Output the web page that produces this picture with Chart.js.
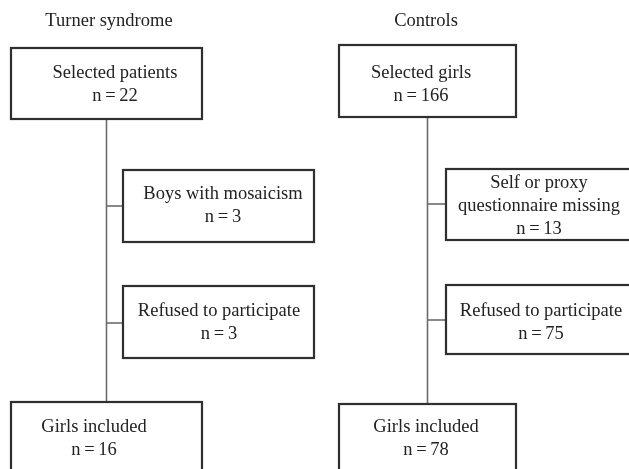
<!DOCTYPE html>
<html>
<head>
<meta charset="utf-8">
<script src="https://cdn.jsdelivr.net/npm/chart.js@4.4.0/dist/chart.umd.min.js"></script>
<style>
  html, body { margin: 0; padding: 0; background: #fff; }
  canvas { display: block; }
</style>
</head>
<body>
<canvas id="chart" width="629" height="469"></canvas>
<script>
// flow of participants, one column per group
const groups = ["Turner syndrome", "Controls"];
const turnerSteps = [["Selected patients"], ["Boys with mosaicism"], ["Refused to participate"], ["Girls included"]];
const turnerCounts = [22, 3, 3, 16];
const controlSteps = [["Selected girls"], ["Self or proxy", "questionnaire missing"], ["Refused to participate"], ["Girls included"]];
const controlCounts = [166, 13, 75, 78];

// layout in page units (x: 0..629, y: 0..469), boxes as [left, top, right, bottom]
const titlePos = [[109, 21], [426, 21]];
const boxRects = [
    [[11, 48, 202, 119], [123, 170, 314, 242], [123, 286, 314, 358], [11, 402, 202, 490]],
    [[339, 45, 516, 117], [446, 169, 650, 240], [446, 285, 650, 354], [339, 404, 516, 490]]
];
const textPos = [
    [[115, 73], [223, 194], [219, 311], [94, 427]],
    [[421, 73], [539, 183], [541, 311], [426, 427]]
];
const branchY = [[206, 323], [204, 320]];

const FONT = '18.5px "Liberation Serif", "Times New Roman", serif';
const LINE_H = 23;

const steps = [turnerSteps, controlSteps];
const counts = [turnerCounts, controlCounts];

// connectors as line datasets
const connectors = [];
boxRects.forEach((rects, g) => {
    const trunkX = (rects[0][0] + rects[0][2]) / 2;
    connectors.push([{x: trunkX, y: rects[0][3]}, {x: trunkX, y: rects[3][1]}]);
    branchY[g].forEach((by, i) => {
        connectors.push([{x: trunkX, y: by}, {x: rects[i + 1][0], y: by}]);
    });
});

const datasets = connectors.map(pts => ({
    type: 'line',
    data: pts,
    borderColor: '#6b6b6b',
    borderWidth: 1.6,
    pointRadius: 0,
    fill: false,
}));

const flowBoxes = {
    id: 'flowBoxes',
    afterDatasetsDraw(chart) {
        const ctx = chart.ctx;
        const xs = chart.scales.x, ys = chart.scales.y;
        ctx.save();
        ctx.font = FONT;
        ctx.fillStyle = '#222';
        ctx.textAlign = 'center';
        ctx.textBaseline = 'middle';
        groups.forEach((name, g) => {
            ctx.fillText(name, xs.getPixelForValue(titlePos[g][0]), ys.getPixelForValue(titlePos[g][1]));
            boxRects[g].forEach((r, i) => {
                const x0 = xs.getPixelForValue(r[0]), y0 = ys.getPixelForValue(r[1]);
                const x1 = xs.getPixelForValue(r[2]), y1 = ys.getPixelForValue(r[3]);
                ctx.fillStyle = '#fff';
                ctx.fillRect(x0, y0, x1 - x0, y1 - y0);
                ctx.strokeStyle = '#2f2f2f';
                ctx.lineWidth = 2.2;
                ctx.strokeRect(x0, y0, x1 - x0, y1 - y0);

                // thin spaces around "=" like the original typesetting
                const lines = steps[g][i].concat(["n\u2009=\u2009" + counts[g][i]]);
                const tx = xs.getPixelForValue(textPos[g][i][0]);
                let ty = ys.getPixelForValue(textPos[g][i][1]);
                ctx.fillStyle = '#222';
                lines.forEach(t => {
                    ctx.fillText(t, tx, ty);
                    ty += LINE_H;
                });
            });
        });
        ctx.restore();
    }
};

new Chart(document.getElementById('chart'), {
    type: 'scatter',
    data: { datasets: datasets },
    options: {
        responsive: false,
        animation: false,
        layout: { padding: 0 },
        scales: {
            x: { type: 'linear', min: 0, max: 629, display: false },
            y: { type: 'linear', min: 0, max: 469, reverse: true, display: false },
        },
        plugins: {
            legend: { display: false },
            tooltip: { enabled: false },
        },
    },
    plugins: [flowBoxes],
});
</script>
</body>
</html>
